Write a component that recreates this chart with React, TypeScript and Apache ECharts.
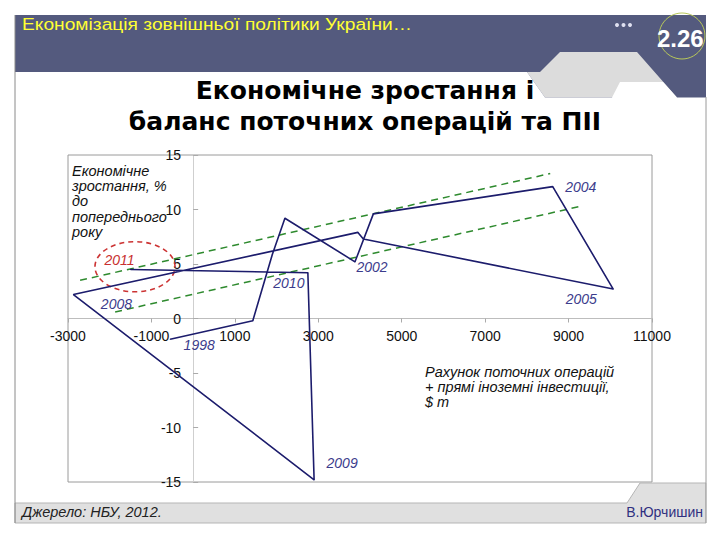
import React, { useEffect, useRef } from "react";
import * as echarts from "echarts";

// ---- data ----
const years = [1998, 1999, 2000, 2001, 2002, 2003, 2004, 2005, 2006, 2007, 2008, 2009, 2010, 2011];
// current account + FDI, $ m
const caFdi = [-550, 1430, 1900, 2200, 3880, 4320, 8620, 10070, 4080, 3950, -2870, 2900, 2750, -1500];
// GDP growth, % y/y
const gdpGrowth = [-1.9, -0.2, 5.9, 9.2, 5.2, 9.6, 12.1, 2.7, 7.3, 7.9, 2.2, -14.8, 4.2, 4.5];
const labeledYears = [1998, 2002, 2004, 2005, 2008, 2009, 2010, 2011];
const upperTrend = [[-2710, 3.5], [8560, 13.3]];
const lowerTrend = [[-1870, 0.6], [9350, 10.35]];
const highlightEllipse = [[-1394, 4.75, 960, 2.3]]; // centre x, centre y, radius x, radius y
const xTickValues = [-3000, -1000, 1000, 3000, 5000, 7000, 9000, 11000];
const xMin = -3000;
const xMax = 11000;
const yMin = -15;
const yMax = 15;
const yInterval = 5;

const headerTitle = "Економізація зовнішньої політики України…";
const slideNumber = "2.26";
const chartTitle = "Економічне зростання і\nбаланс поточних операцій та ПІІ";
const yAxisTitleLines = ["Економічне", "зростання, %", "до", "попереднього", "року"];
const xAxisTitleLines = ["Рахунок поточних операцій", "+ прямі іноземні інвестиції,", "$ m"];
const sourceText = "Джерело: НБУ, 2012.";
const authorText = "В.Юрчишин";

// label placement (offset of label centre from the point, px)
const labelOffsets: Record<number, [number, number]> = {
  1998: [29, 6],
  2002: [17, 5],
  2004: [28, 0],
  2005: [-32, 10],
  2008: [43, 9],
  2009: [28, -17],
  2010: [-19, 10],
  2011: [-11, -9],
};

const FONT = "Liberation Sans";
const GRID = { left: 68, top: 155, width: 584, height: 327 };

export default function App() {
  const ref = useRef<HTMLDivElement>(null);
  useEffect(() => {
    document.body.style.margin = "0";
    if (!ref.current) return;
    const chart = echarts.init(ref.current, null, { renderer: "svg" });

    // axes cross at zero: shift each axis from the grid edge to the other axis' zero
    const xAxisOffset = -GRID.height * ((0 - yMin) / (yMax - yMin));
    const yAxisOffset = -GRID.width * ((0 - xMin) / (xMax - xMin));

    const lineData = years.map((yr, i) => {
      const item: any = { name: String(yr), value: [caFdi[i], gdpGrowth[i]] };
      if (labeledYears.includes(yr)) {
        const off = labelOffsets[yr] || [0, 0];
        item.label = {
          show: true,
          position: "inside",
          offset: off,
          formatter: "{b}",
          fontFamily: FONT,
          fontStyle: "italic",
          fontSize: 14,
          color: yr === 2011 ? "#c83030" : "#3c3c8c",
        };
      }
      return item;
    });

    const italicLines = (lines: string[], x: number, y0: number, step: number, size: number) =>
      lines.map((t, i) => ({
        type: "text",
        x,
        y: y0 + i * step,
        style: {
          text: t,
          fill: "#111111",
          fontFamily: FONT,
          fontStyle: "italic",
          fontSize: size,
          textVerticalAlign: "middle",
        },
        z: 3,
      }));

    const option: any = {
      animation: false,
      backgroundColor: "#ffffff",
      grid: {
        ...GRID,
        show: true,
        borderColor: "#9a9a9a",
        borderWidth: 1,
        backgroundColor: "transparent",
      },
      xAxis: {
        type: "value",
        min: xMin,
        max: xMax,
        position: "bottom",
        offset: xAxisOffset,
        axisLine: { onZero: false, lineStyle: { color: "#bdbdbd", width: 1 } },
        axisTick: { show: true, customValues: xTickValues, length: 4, lineStyle: { color: "#aaaaaa" } },
        axisLabel: {
          customValues: xTickValues,
          formatter: (v: number) => String(v),
          fontFamily: FONT,
          fontSize: 14,
          color: "#111111",
          margin: 10,
        },
        splitLine: { show: false },
      },
      yAxis: {
        type: "value",
        min: yMin,
        max: yMax,
        interval: yInterval,
        position: "left",
        offset: yAxisOffset,
        axisLine: { onZero: false, lineStyle: { color: "#cfcfcf", width: 1 } },
        axisTick: { show: true, inside: true, length: 5, lineStyle: { color: "#aaaaaa" } },
        axisLabel: { formatter: (v: number) => String(v), fontFamily: FONT, fontSize: 14, color: "#111111", margin: 12 },
        splitLine: { show: false },
      },
      series: [
        {
          type: "line",
          name: "upper",
          data: upperTrend,
          symbol: "none",
          silent: true,
          lineStyle: { color: "#2e8a2e", width: 1.5, type: [7, 5] },
          z: 2,
        },
        {
          type: "line",
          name: "lower",
          data: lowerTrend,
          symbol: "none",
          silent: true,
          lineStyle: { color: "#2e8a2e", width: 1.5, type: [7, 5] },
          z: 2,
        },
        {
          type: "custom",
          name: "highlight",
          data: highlightEllipse,
          encode: { x: 0, y: 1 },
          silent: true,
          z: 2,
          renderItem: (params: any, api: any) => {
            const c = api.coord([api.value(0), api.value(1)]);
            const s = api.size([api.value(2), api.value(3)]);
            return {
              type: "ellipse",
              shape: { cx: c[0], cy: c[1], rx: s[0], ry: s[1] },
              style: { fill: "none", stroke: "#cc3333", lineWidth: 1.6, lineDash: [5, 4] },
            };
          },
        },
        {
          type: "line",
          name: "trajectory",
          data: lineData,
          symbol: "circle",
          symbolSize: 1,
          showSymbol: true,
          itemStyle: { color: "#1c1c6c" },
          lineStyle: { color: "#1c1c6c", width: 1.6 },
          label: { show: false },
          z: 3,
        },
      ],
      graphic: [
        // header band
        { type: "rect", shape: { x: 15, y: 15, width: 691, height: 83 }, style: { fill: "#545a7e" }, z: 0 },
        {
          type: "polygon",
          shape: { points: [[560, 52], [637, 52], [677, 97.5], [545, 97.5], [527, 72], [540, 72]] },
          style: { fill: "#dcdcdc" },
          z: 1,
        },
        {
          type: "polygon",
          shape: {
            points: [[15, 72], [527, 72], [545, 97.5], [612, 97.5], [620, 82], [663, 82], [677, 97.5], [706, 97.5], [706, 101], [15, 101]],
          },
          style: { fill: "#ffffff" },
          z: 2,
        },
        {
          type: "text",
          x: 22,
          y: 24,
          scaleX: 1.13,
          style: { text: headerTitle, fill: "#ffff33", fontFamily: FONT, fontSize: 17, textVerticalAlign: "middle" },
          z: 3,
        },
        { type: "circle", shape: { cx: 617, cy: 25, r: 2 }, style: { fill: "#dfe0f0" }, z: 3 },
        { type: "circle", shape: { cx: 623.5, cy: 25, r: 2 }, style: { fill: "#dfe0f0" }, z: 3 },
        { type: "circle", shape: { cx: 630, cy: 25, r: 2 }, style: { fill: "#dfe0f0" }, z: 3 },
        { type: "circle", shape: { cx: 682, cy: 36, r: 23 }, style: { fill: "none", stroke: "#b8c85a", lineWidth: 1 }, z: 3 },
        {
          type: "text",
          x: 657,
          y: 38,
          style: { text: slideNumber, fill: "#ffffff", fontFamily: FONT, fontWeight: "bold", fontSize: 24, textVerticalAlign: "middle" },
          z: 4,
        },
        { type: "rect", shape: { x: 706.5, y: 0, width: 14, height: 540 }, style: { fill: "#ffffff" }, z: 5 },
        // slide borders
        { type: "line", shape: { x1: 15, y1: 15, x2: 15, y2: 523 }, style: { stroke: "#8a8a8a", lineWidth: 1 }, z: 6 },
        { type: "line", shape: { x1: 706, y1: 97, x2: 706, y2: 523 }, style: { stroke: "#9a9a9a", lineWidth: 1 }, z: 6 },
        // footer band
        {
          type: "polygon",
          shape: { points: [[15, 503], [627, 503], [640, 483], [706, 483], [706, 523], [15, 523]] },
          style: { fill: "#e0e0e0", stroke: "#b5b5b5", lineWidth: 1 },
          z: 1,
        },
        {
          type: "text",
          x: 22,
          y: 512,
          style: { text: sourceText, fill: "#222222", fontFamily: FONT, fontStyle: "italic", fontSize: 14.5, textVerticalAlign: "middle" },
          z: 3,
        },
        {
          type: "text",
          x: 703,
          y: 512,
          style: { text: authorText, fill: "#303080", fontFamily: FONT, fontSize: 14, textAlign: "right", textVerticalAlign: "middle" },
          z: 3,
        },
        // chart title
        {
          type: "text",
          x: 365,
          y: 75,
          style: {
            text: chartTitle,
            fill: "#000000",
            fontFamily: "DejaVu Sans",
            fontWeight: "bold",
            fontSize: 25,
            lineHeight: 31,
            textAlign: "center",
            textVerticalAlign: "top",
          },
          z: 3,
        },
        // axis titles
        ...italicLines(yAxisTitleLines, 72, 171, 15.2, 14.5),
        ...italicLines(xAxisTitleLines, 425, 372, 14.8, 14.5),
      ],
    };
    chart.setOption(option);
    return () => chart.dispose();
  }, []);
  return <div ref={ref} style={{ position: "absolute", left: 0, top: 0, width: 720, height: 540 }} />;
}
